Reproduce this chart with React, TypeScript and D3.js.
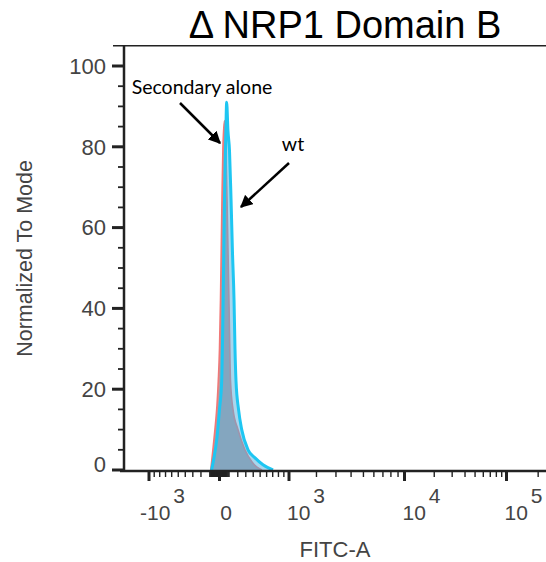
import React from 'react';
import * as d3 from 'd3';

// Histogram data (FITC-A value, normalized-to-mode count)
const secX = [-90, -67, -46, -25, -12, 0, 10, 25, 35, 51, 67, 78, 88, 99, 116, 144, 203, 289, 383, 453, 528];
const secY = [0, 5, 10, 16, 22, 30, 42, 67, 80, 86.5, 78, 67, 55, 42, 22, 15, 10, 5, 2, 0.7, 0];
const wtX = [-81, -56, -25, 0, 22, 36, 51, 64, 74, 88, 105, 122, 138, 156, 167, 179, 209, 248, 329, 425, 543, 705];
const wtY = [0, 3, 8, 15, 22, 40, 67, 82, 91, 84, 79, 67, 54, 42, 30, 22, 15, 10, 5, 3, 1.3, 0];

const xMajorTicks = [-1000, 0, 1000, 10000, 100000];
const xLabelBases = ['-10', '0', '10', '10', '10'];
const xLabelExps = ['3', '', '3', '4', '5'];
const yMajorTicks = [0, 20, 40, 60, 80, 100];

const title = 'Δ NRP1 Domain B';
const xTitle = 'FITC-A';
const yTitle = 'Normalized To Mode';

const W = 546;
const H = 562;

export default function App() {
  const x = d3
    .scaleSymlog()
    .constant(1000)
    .domain([-1000, 0, 1000, 10000, 100000])
    .range([149, 219.5, 289, 404.5, 506.5]);
  const y = d3.scaleLinear().domain([0, 100]).range([470, 66]);

  const left = 124;
  const right = W;
  const top = y(105);
  const bottom = 471;

  // minor ticks
  const minorX: number[] = [];
  for (const s of [-1, 1]) {
    for (let v = 10; v < 100; v += 10) minorX.push(s * v);
    for (let v = 100; v < 1000; v += 100) minorX.push(s * v);
  }
  for (let v = 2000; v < 10000; v += 1000) minorX.push(v);
  for (let v = 20000; v < 100000; v += 10000) minorX.push(v);
  minorX.push(200000);

  const minorY: number[] = [];
  for (let v = 5; v <= 100; v += 5) if (v % 20 !== 0) minorY.push(v);

  const secData = secX.map((v, i) => [v, secY[i]] as [number, number]);
  const wtData = wtX.map((v, i) => [v, wtY[i]] as [number, number]);

  const area = d3
    .area<[number, number]>()
    .x((d) => x(d[0]))
    .y0(y(0))
    .y1((d) => y(d[1]))
    .curve(d3.curveMonotoneX);
  const line = d3
    .line<[number, number]>()
    .x((d) => x(d[0]))
    .y((d) => y(d[1]))
    .curve(d3.curveMonotoneX);

  const axisColor = '#222';
  const labelColor = '#444';
  const font = 'Liberation Sans, Arial, sans-serif';

  return (
    <svg
      width={W}
      height={H}
      style={{ position: 'absolute', left: 0, top: 0, background: '#fff' }}
      fontFamily={font}
    >
      <defs>
        <clipPath id="plotclip">
          <rect x={left} y={top} width={right - left} height={bottom - top - 1} />
        </clipPath>
        <marker id="arrow" viewBox="0 0 10 10" refX="9" refY="5" markerWidth="5" markerHeight="5" orient="auto">
          <path d="M0,0 L10,5 L0,10 z" fill="#000" />
        </marker>
      </defs>

      {/* title */}
      <text x={345} y={38} textAnchor="middle" fontSize={38} fill="#000">
        {title}
      </text>

      {/* histograms */}
      <g clipPath="url(#plotclip)">
        <path d={area(secData) || ''} fill="#b89ca0" />
        <path d={line(secData) || ''} fill="none" stroke="#f07878" strokeWidth={1.6} />
        <path d={area(wtData) || ''} fill="rgba(80,175,222,0.5)" />
        <path d={line(wtData) || ''} fill="none" stroke="#1ec6f2" strokeWidth={3} />
      </g>

      {/* axes lines */}
      <line x1={113} x2={right} y1={top} y2={top} stroke={axisColor} strokeWidth={1.5} />
      <line x1={left} x2={left} y1={top} y2={bottom} stroke={axisColor} strokeWidth={2.5} />
      <line x1={120} x2={right} y1={bottom} y2={bottom} stroke={axisColor} strokeWidth={2.5} />

      {/* y ticks */}
      {yMajorTicks.map((v) => (
        <g key={'ym' + v}>
          <line x1={112} x2={left} y1={y(v)} y2={y(v)} stroke={axisColor} strokeWidth={3} />
          <text x={106} y={v === 0 ? y(v) - 6 : y(v)} dy="0.35em" textAnchor="end" fontSize={22} fill={labelColor}>
            {v}
          </text>
        </g>
      ))}
      {minorY.map((v) => (
        <line key={'yn' + v} x1={118} x2={left} y1={y(v)} y2={y(v)} stroke={axisColor} strokeWidth={1.8} />
      ))}

      {/* x ticks */}
      {minorX.map((v) => (
        <line key={'xn' + v} x1={x(v)} x2={x(v)} y1={bottom} y2={bottom + 6} stroke={axisColor} strokeWidth={1.4} />
      ))}
      {xMajorTicks.map((v, i) => {
        const px = x(v);
        const base = xLabelBases[i];
        const exp = xLabelExps[i];
        let tx = px - 2;
        let anchor: 'start' | 'middle' = 'start';
        if (base === '-10') tx = px - 9;
        if (base === '0') {
          tx = px + 6.5;
          anchor = 'middle';
        }
        return (
          <g key={'xm' + v}>
            <line x1={px} x2={px} y1={bottom} y2={bottom + 10} stroke={axisColor} strokeWidth={3} />
            <text x={tx} y={520} textAnchor={anchor} fontSize={21} fill={labelColor}>
              {base}
              {exp && (
                <tspan dx={3} dy={-17}>
                  {exp}
                </tspan>
              )}
            </text>
          </g>
        );
      })}

      {/* axis titles */}
      <text x={335} y={557} textAnchor="middle" fontSize={22} fill={labelColor}>
        {xTitle}
      </text>
      <text
        transform={`translate(32, ${(top + bottom) / 2}) rotate(-90)`}
        textAnchor="middle"
        fontSize={21.5}
        fill={labelColor}
      >
        {yTitle}
      </text>

      {/* annotations */}
      <text x={202} y={94} textAnchor="middle" fontSize={19.5} fontFamily="Lato, sans-serif" fill="#000">
        Secondary alone
      </text>
      <line x1={180} y1={103} x2={220} y2={143} stroke="#000" strokeWidth={2.5} markerEnd="url(#arrow)" />
      <text x={293} y={151} textAnchor="middle" fontSize={19.5} fontFamily="Lato, sans-serif" fill="#000">
        wt
      </text>
      <line x1={289} y1={163} x2={241} y2={207} stroke="#000" strokeWidth={2.5} markerEnd="url(#arrow)" />
    </svg>
  );
}
